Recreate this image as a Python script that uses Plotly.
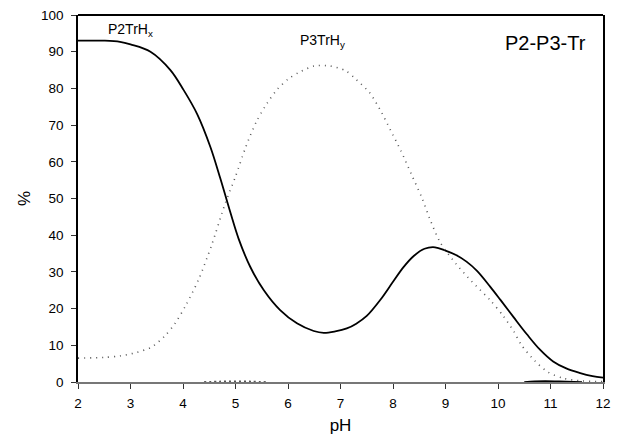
import plotly.graph_objects as go

# Species distribution of the P2-P3-Tr system versus pH
ph_p2 = [2.0, 2.5, 2.8, 3.0, 3.38, 3.76, 4.01, 4.27, 4.52, 4.71, 4.9, 5.06,
         5.28, 5.54, 5.85, 6.17, 6.49, 6.68, 6.9, 7.12, 7.3, 7.5, 7.76, 8.0,
         8.2, 8.4, 8.6, 8.8, 9.0, 9.2, 9.4, 9.6, 9.85, 10.05, 10.3, 10.55,
         10.8, 11.05, 11.3, 11.55, 11.8, 12.0]
p2trhx = [93.0, 93.0, 92.7, 92.0, 90.0, 85.0, 79.6, 73.0, 64.1, 55.5, 46.3,
          39.0, 31.4, 25.0, 19.6, 16.0, 13.9, 13.4, 13.8, 14.6, 15.9, 18.0,
          22.4, 27.3, 31.3, 34.4, 36.3, 36.7, 35.8, 34.6, 32.8, 30.3, 26.0,
          22.3, 17.6, 13.0, 8.8, 5.6, 3.7, 2.5, 1.6, 1.2]

ph_p3 = [2.0, 2.5, 2.8, 3.1, 3.4, 3.65, 3.85, 4.05, 4.3, 4.55, 4.8, 5.0, 5.2,
         5.4, 5.6, 5.8, 6.0, 6.2, 6.5, 6.8, 7.1, 7.3, 7.55, 7.75, 7.95, 8.15,
         8.35, 8.55, 8.7, 8.9, 9.2, 9.5, 9.85, 10.1, 10.3, 10.45, 10.7, 10.95,
         11.25, 11.6, 12.0]
p3trhy = [6.5, 6.7, 7.1, 8.0, 9.5, 12.5, 16.0, 20.8, 28.0, 37.5, 48.5, 56.0,
          64.2, 71.0, 75.9, 79.8, 82.5, 84.3, 86.1, 86.1, 84.8, 82.4, 78.9,
          74.3, 68.7, 63.0, 56.6, 50.2, 44.5, 38.0, 32.2, 27.4, 22.3, 18.0,
          13.8, 10.0, 5.8, 2.7, 1.0, 0.3, 0.1]

# minor species that stay close to zero
ph_minor_a = [4.4, 4.7, 5.0, 5.3, 5.6]
minor_a = [0.0, 0.15, 0.2, 0.15, 0.0]
ph_minor_b = [10.5, 10.7, 10.9, 11.1, 11.3, 11.6]
minor_b = [0.0, 0.2, 0.25, 0.2, 0.1, 0.0]

x_ticks = [2, 3, 4, 5, 6, 7, 8, 9, 10, 11, 12]
y_ticks = [0, 10, 20, 30, 40, 50, 60, 70, 80, 90, 100]

FONT = "Liberation Sans, Arial, sans-serif"

fig = go.Figure()
fig.add_trace(go.Scatter(x=ph_p2, y=p2trhx, mode="lines",
                         line=dict(color="black", width=1.8, shape="spline", smoothing=1.0)))
fig.add_trace(go.Scatter(x=ph_p3, y=p3trhy, mode="lines",
                         line=dict(color="#555555", width=1.6, dash="1px,5px",
                                   shape="spline", smoothing=0.8)))
fig.add_trace(go.Scatter(x=ph_minor_a, y=minor_a, mode="lines",
                         line=dict(color="#555555", width=1.6, dash="2px,3px", shape="spline")))
fig.add_trace(go.Scatter(x=ph_minor_b, y=minor_b, mode="lines",
                         line=dict(color="black", width=1.6, shape="spline")))

fig.add_annotation(x=3.0, y=96.0, xref="x", yref="y", text="P2TrH<sub>x</sub>",
                   showarrow=False, font=dict(family=FONT, size=14, color="black"))
fig.add_annotation(x=6.65, y=93.0, xref="x", yref="y", text="P3TrH<sub>y</sub>",
                   showarrow=False, font=dict(family=FONT, size=14, color="black"))
fig.add_annotation(x=10.9, y=92.5, xref="x", yref="y", text="P2-P3-Tr",
                   showarrow=False, font=dict(family=FONT, size=20, color="black"))

# top border of the frame
fig.add_shape(type="line", xref="paper", yref="paper", x0=0, x1=1, y0=1, y1=1,
              line=dict(color="black", width=1.8))

fig.update_layout(
    width=619, height=439,
    margin=dict(l=78, r=16, t=15, b=57),
    paper_bgcolor="white", plot_bgcolor="white",
    showlegend=False,
    font=dict(family=FONT, size=13.5, color="black"),
    xaxis=dict(range=[2, 12], tickvals=x_ticks, ticks="outside", ticklen=5,
               tickcolor="#333", showline=True, linecolor="#777", linewidth=1.5,
               showgrid=False, zeroline=False, ticklabelstandoff=3,
               automargin=False,
               title=dict(text="pH", font=dict(family=FONT, size=17), standoff=9),
               tickfont=dict(family=FONT, size=13.5)),
    yaxis=dict(range=[0, 100], tickvals=y_ticks, ticks="outside", ticklen=5,
               tickcolor="#333", showline=True, linecolor="black", linewidth=1.5,
               mirror=True, showgrid=False, zeroline=False, ticklabelstandoff=5,
               automargin=False,
               title=dict(text="%", font=dict(family=FONT, size=17), standoff=6),
               tickfont=dict(family=FONT, size=13.5)),
)

fig.write_html("out.html")
